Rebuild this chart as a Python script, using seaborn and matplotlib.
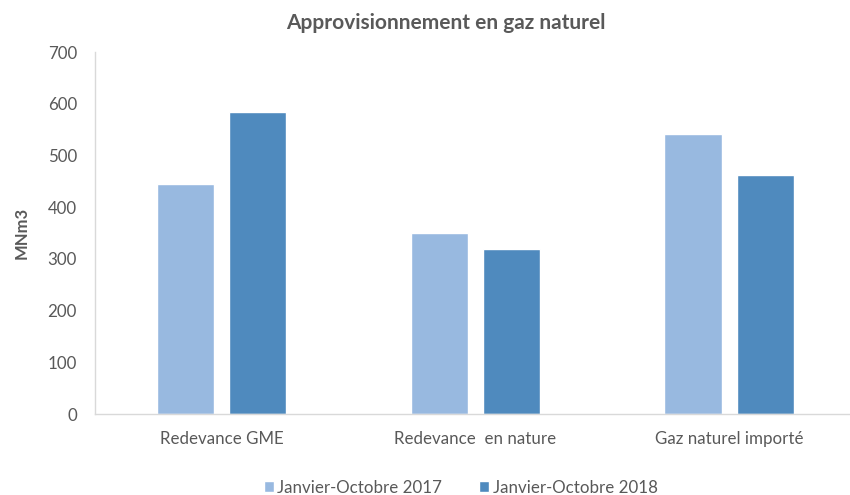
import pandas as pd
import matplotlib.pyplot as plt
import seaborn as sns

# --- Data ---
categories = ['Redevance GME', 'Redevance  en nature', 'Gaz naturel importé']
periods = ['Janvier-Octobre 2017', 'Janvier-Octobre 2018']
values_2017 = [445, 350, 541]
values_2018 = [584, 319, 462]

df = pd.DataFrame({
    'categorie': categories * 2,
    'periode': [periods[0]] * 3 + [periods[1]] * 3,
    'valeur': values_2017 + values_2018,
})

sns.set_style('white')
plt.rcParams['font.family'] = ['Lato', 'DejaVu Sans']
text_color = '#595959'
palette = {periods[0]: '#98B9E0', periods[1]: '#4F8ABE'}

fig = plt.figure(figsize=(8.5, 4.95), dpi=100)
ax = fig.add_axes([0.1118, 0.1636, 0.887, 0.7313])

sns.barplot(data=df, x='categorie', y='valeur', hue='periode',
            palette=palette, width=0.568, gap=0.208, saturation=1,
            ax=ax, legend=True)

ax.set_ylim(0, 700)
ax.set_xlim(-0.5, 2.473)
ax.set_yticks(range(0, 701, 100))
ax.set_xlabel('')
ax.set_ylabel('MNm3', fontsize=12, fontweight='bold', color=text_color, labelpad=13)
ax.tick_params(axis='both', length=0, labelsize=12.2, labelcolor=text_color)
ax.tick_params(axis='y', pad=13)
ax.tick_params(axis='x', pad=12)

for side in ['top', 'right']:
    ax.spines[side].set_visible(False)
for side in ['left', 'bottom']:
    ax.spines[side].set_color('#D9D9D9')
    ax.spines[side].set_linewidth(1)

fig.text(0.525, 0.953, 'Approvisionnement en gaz naturel', ha='center', va='center',
         fontsize=15, fontweight='bold', color=text_color)

handles, labels = ax.get_legend_handles_labels()
ax.legend(handles, labels, loc='center', bbox_to_anchor=(0.542, 0.015),
          bbox_transform=fig.transFigure, ncol=2, frameon=False,
          fontsize=12.2, labelcolor=text_color, handlelength=0.6, handleheight=0.6,
          handletextpad=0.2, columnspacing=2.2)

plt.savefig('out.png', dpi=100)
